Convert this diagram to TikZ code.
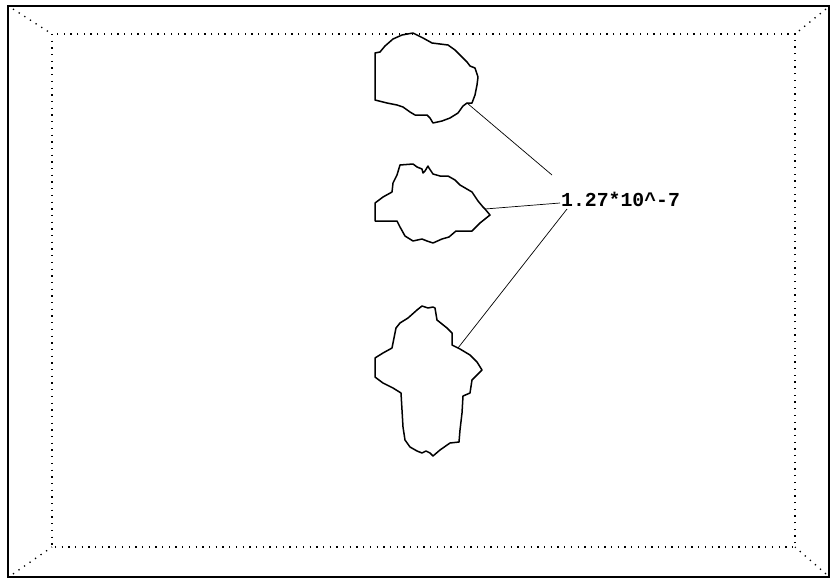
\documentclass[tikz,border=0pt]{standalone}
\usepackage{fontspec}
\newfontfamily\labelmono{Liberation Mono}
\begin{document}
\begin{tikzpicture}[x=1pt,y=-1pt,
  frame/.style={line width=1.4pt},
  dotline/.style={line width=1.3pt,dash pattern=on 1.3pt off 5.4pt},
  blob/.style={line width=1.5pt,line join=round},
  leader/.style={line width=0.7pt},
  valuelabel/.style={font=\labelmono\bfseries\fontsize{19.8}{21}\selectfont,inner sep=0pt,anchor=base west}]
\useasboundingbox (0,0) rectangle (830,578);
\fill[white] (0,0) rectangle (830,578);

% outer frame and inner dotted box with corner diagonals
\draw[frame] (8,6) rectangle (829,577);
\draw[dotline] (52,34) rectangle (795,547);
\draw[dotline] (13,9) -- (52,34);
\draw[dotline] (826,9) -- (795,34);
\draw[dotline] (13,574) -- (52,547);
\draw[dotline] (826,574) -- (795,547);

% upper outline
\draw[blob] (375,53) -- (380,52) -- (385,46) -- (393,39) -- (402,35) -- (413,33)
  -- (417,35) -- (423,38) -- (432,43) -- (440,44) -- (448,45) -- (455,50)
  -- (462,57) -- (467,62) -- (470,66) -- (475,68) -- (478,77) -- (477,85)
  -- (475,95) -- (472,103) -- (467,103) coordinate (p1) -- (463,106) -- (458,113)
  -- (450,118) -- (442,121) -- (433,123) -- (430,118) -- (427,115) -- (415,115)
  -- (410,112) -- (403,107) -- (397,105) -- (387,103) -- (375,100) -- cycle;

% middle outline
\draw[blob] (375,203) -- (375,221) -- (397,221) -- (400,227) -- (405,236)
  -- (413,241) -- (422,239) -- (427,241) -- (433,243) -- (442,239) -- (449,237)
  -- (456,231) -- (472,231) -- (480,223) -- (490,215) -- (485,209) coordinate (p2)
  -- (483,207) -- (478,201) -- (472,192) -- (460,185) -- (455,180) -- (448,176)
  -- (440,176) -- (433,174) -- (429,168) -- (428,166) -- (425,171) -- (423,173)
  -- (422,169) -- (417,167) -- (413,164) -- (400,165) -- (397,175) -- (393,183)
  -- (392,192) -- (383,197) -- cycle;

% lower outline
\draw[blob] (375,358) -- (375,377) -- (383,383) -- (393,388) -- (401,393)
  -- (402,410) -- (403,427) -- (405,440) -- (410,447) -- (417,451) -- (422,453)
  -- (426,451) -- (430,453) -- (433,456) -- (440,450) -- (450,443) -- (459,442)
  -- (460,430) -- (462,413) -- (463,396) -- (470,393) -- (472,380) -- (475,377)
  -- (482,370) -- (477,362) -- (470,355) -- (460,349) -- (458,348) coordinate (p3)
  -- (452,345) -- (452,333) -- (447,328) -- (437,320) -- (435,308) -- (433,307)
  -- (428,308) -- (422,306) -- (417,310) -- (408,318) -- (400,323) -- (396,328)
  -- (393,343) -- (392,348) -- (383,353) -- cycle;

% value label and its leader lines
\node[valuelabel] (val) at (561,206) {1.27*10\textasciicircum-7};
\coordinate (e1) at (552,175);
\coordinate (e2) at (560,203);
\coordinate (e3) at (567,209);
\draw[leader] (p1) -- (e1);
\draw[leader] (p2) -- (e2);
\draw[leader] (p3) -- (e3);
\end{tikzpicture}
\end{document}
